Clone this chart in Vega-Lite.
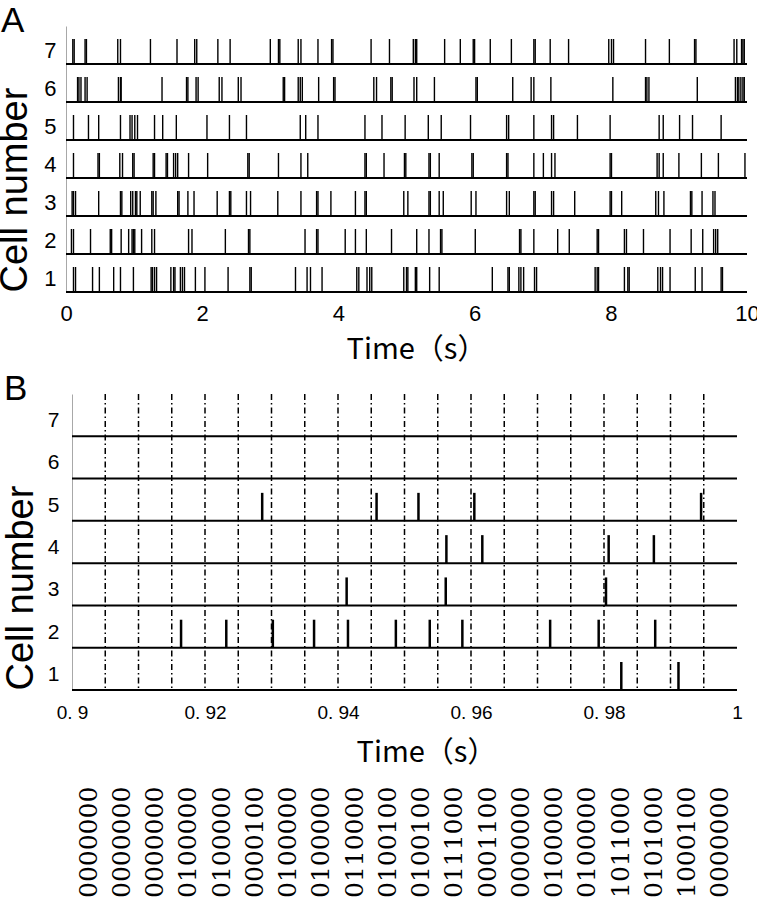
{
"$schema": "https://vega.github.io/schema/vega-lite/v6.json",
"background": "white",
"padding": {"left": -4, "top": 4, "right": 0, "bottom": 0},
"config": {"view": {"stroke": null}, "font": "Liberation Sans", "axis": {"grid": false, "ticks": false, "labelColor": "black", "titleColor": "black", "titleFontWeight": "normal", "labelFlush": false, "labelOverlap": false, "labelBound": false}},
"datasets": {
"cells": [{"cell":1},{"cell":2},{"cell":3},{"cell":4},{"cell":5},{"cell":6},{"cell":7}],
"rasterA": [
{"cell":7,"t":0.10},{"cell":7,"t":0.12},{"cell":7,"t":0.28},{"cell":7,"t":0.30},{"cell":7,"t":0.76},{"cell":7,"t":0.80},{"cell":7,"t":1.24},{"cell":7,"t":1.63},{"cell":7,"t":1.89},{"cell":7,"t":1.92},{"cell":7,"t":2.23},{"cell":7,"t":2.41},{"cell":7,"t":3.00},{"cell":7,"t":3.12},{"cell":7,"t":3.14},{"cell":7,"t":3.41},{"cell":7,"t":3.45},{"cell":7,"t":3.70},{"cell":7,"t":3.90},{"cell":7,"t":3.92},{"cell":7,"t":4.48},{"cell":7,"t":4.75},{"cell":7,"t":5.10},{"cell":7,"t":5.13},{"cell":7,"t":5.15},{"cell":7,"t":5.56},{"cell":7,"t":5.79},{"cell":7,"t":5.98},{"cell":7,"t":6.00},{"cell":7,"t":6.23},{"cell":7,"t":6.54},{"cell":7,"t":6.87},{"cell":7,"t":6.89},{"cell":7,"t":7.11},{"cell":7,"t":7.38},{"cell":7,"t":7.97},{"cell":7,"t":8.01},{"cell":7,"t":8.04},{"cell":7,"t":8.51},{"cell":7,"t":8.86},{"cell":7,"t":9.23},{"cell":7,"t":9.25},{"cell":7,"t":9.81},{"cell":7,"t":9.85},{"cell":7,"t":9.92},{"cell":7,"t":9.94},{"cell":7,"t":9.96},
{"cell":6,"t":0.17},{"cell":6,"t":0.19},{"cell":6,"t":0.22},{"cell":6,"t":0.28},{"cell":6,"t":0.31},{"cell":6,"t":0.77},{"cell":6,"t":0.80},{"cell":6,"t":0.81},{"cell":6,"t":1.41},{"cell":6,"t":1.77},{"cell":6,"t":1.79},{"cell":6,"t":1.91},{"cell":6,"t":1.94},{"cell":6,"t":2.25},{"cell":6,"t":2.29},{"cell":6,"t":2.53},{"cell":6,"t":2.57},{"cell":6,"t":3.19},{"cell":6,"t":3.21},{"cell":6,"t":3.41},{"cell":6,"t":3.44},{"cell":6,"t":3.47},{"cell":6,"t":3.71},{"cell":6,"t":3.93},{"cell":6,"t":3.95},{"cell":6,"t":4.52},{"cell":6,"t":4.56},{"cell":6,"t":4.77},{"cell":6,"t":4.79},{"cell":6,"t":5.11},{"cell":6,"t":5.15},{"cell":6,"t":5.41},{"cell":6,"t":6.02},{"cell":6,"t":6.04},{"cell":6,"t":6.56},{"cell":6,"t":6.83},{"cell":6,"t":6.87},{"cell":6,"t":7.12},{"cell":6,"t":8.03},{"cell":6,"t":8.51},{"cell":6,"t":8.53},{"cell":6,"t":8.56},{"cell":6,"t":9.27},{"cell":6,"t":9.83},{"cell":6,"t":9.86},{"cell":6,"t":9.88},{"cell":6,"t":9.91},{"cell":6,"t":9.94},{"cell":6,"t":9.96},
{"cell":5,"t":0.11},{"cell":5,"t":0.33},{"cell":5,"t":0.48},{"cell":5,"t":0.80},{"cell":5,"t":0.94},{"cell":5,"t":0.97},{"cell":5,"t":1.01},{"cell":5,"t":1.05},{"cell":5,"t":1.30},{"cell":5,"t":1.42},{"cell":5,"t":1.62},{"cell":5,"t":2.07},{"cell":5,"t":2.40},{"cell":5,"t":2.65},{"cell":5,"t":3.44},{"cell":5,"t":3.52},{"cell":5,"t":3.70},{"cell":5,"t":4.39},{"cell":5,"t":4.64},{"cell":5,"t":4.98},{"cell":5,"t":5.32},{"cell":5,"t":5.51},{"cell":5,"t":5.94},{"cell":5,"t":6.47},{"cell":5,"t":6.50},{"cell":5,"t":6.87},{"cell":5,"t":7.13},{"cell":5,"t":7.16},{"cell":5,"t":7.51},{"cell":5,"t":7.99},{"cell":5,"t":8.71},{"cell":5,"t":8.77},{"cell":5,"t":9.01},{"cell":5,"t":9.20},{"cell":5,"t":9.62},
{"cell":4,"t":0.11},{"cell":4,"t":0.47},{"cell":4,"t":0.49},{"cell":4,"t":0.79},{"cell":4,"t":0.83},{"cell":4,"t":0.98},{"cell":4,"t":1.00},{"cell":4,"t":1.28},{"cell":4,"t":1.30},{"cell":4,"t":1.47},{"cell":4,"t":1.49},{"cell":4,"t":1.58},{"cell":4,"t":1.61},{"cell":4,"t":1.64},{"cell":4,"t":1.80},{"cell":4,"t":2.08},{"cell":4,"t":2.67},{"cell":4,"t":2.69},{"cell":4,"t":3.12},{"cell":4,"t":3.45},{"cell":4,"t":3.55},{"cell":4,"t":4.39},{"cell":4,"t":4.41},{"cell":4,"t":4.67},{"cell":4,"t":4.97},{"cell":4,"t":4.99},{"cell":4,"t":5.33},{"cell":4,"t":5.35},{"cell":4,"t":5.48},{"cell":4,"t":5.96},{"cell":4,"t":5.98},{"cell":4,"t":6.47},{"cell":4,"t":6.49},{"cell":4,"t":6.87},{"cell":4,"t":7.01},{"cell":4,"t":7.13},{"cell":4,"t":7.18},{"cell":4,"t":7.99},{"cell":4,"t":8.01},{"cell":4,"t":8.68},{"cell":4,"t":8.71},{"cell":4,"t":8.77},{"cell":4,"t":9.00},{"cell":4,"t":9.33},{"cell":4,"t":9.58},{"cell":4,"t":9.97},
{"cell":3,"t":0.09},{"cell":3,"t":0.11},{"cell":3,"t":0.14},{"cell":3,"t":0.48},{"cell":3,"t":0.80},{"cell":3,"t":0.82},{"cell":3,"t":0.95},{"cell":3,"t":0.98},{"cell":3,"t":1.02},{"cell":3,"t":1.04},{"cell":3,"t":1.09},{"cell":3,"t":1.26},{"cell":3,"t":1.28},{"cell":3,"t":1.32},{"cell":3,"t":1.64},{"cell":3,"t":1.66},{"cell":3,"t":1.79},{"cell":3,"t":1.88},{"cell":3,"t":2.22},{"cell":3,"t":2.40},{"cell":3,"t":2.42},{"cell":3,"t":2.65},{"cell":3,"t":2.71},{"cell":3,"t":3.11},{"cell":3,"t":3.45},{"cell":3,"t":3.68},{"cell":3,"t":3.70},{"cell":3,"t":3.89},{"cell":3,"t":4.25},{"cell":3,"t":4.39},{"cell":3,"t":4.41},{"cell":3,"t":4.96},{"cell":3,"t":5.02},{"cell":3,"t":5.33},{"cell":3,"t":5.35},{"cell":3,"t":5.48},{"cell":3,"t":5.54},{"cell":3,"t":5.95},{"cell":3,"t":6.02},{"cell":3,"t":6.47},{"cell":3,"t":6.51},{"cell":3,"t":6.87},{"cell":3,"t":6.89},{"cell":3,"t":7.13},{"cell":3,"t":7.16},{"cell":3,"t":7.47},{"cell":3,"t":7.99},{"cell":3,"t":8.01},{"cell":3,"t":8.16},{"cell":3,"t":8.66},{"cell":3,"t":8.70},{"cell":3,"t":8.78},{"cell":3,"t":9.17},{"cell":3,"t":9.19},{"cell":3,"t":9.34},{"cell":3,"t":9.50},{"cell":3,"t":9.53},
{"cell":2,"t":0.08},{"cell":2,"t":0.11},{"cell":2,"t":0.36},{"cell":2,"t":0.65},{"cell":2,"t":0.67},{"cell":2,"t":0.81},{"cell":2,"t":0.92},{"cell":2,"t":0.97},{"cell":2,"t":0.99},{"cell":2,"t":1.01},{"cell":2,"t":1.11},{"cell":2,"t":1.26},{"cell":2,"t":1.30},{"cell":2,"t":1.80},{"cell":2,"t":1.85},{"cell":2,"t":2.34},{"cell":2,"t":2.68},{"cell":2,"t":2.70},{"cell":2,"t":3.51},{"cell":2,"t":3.68},{"cell":2,"t":3.70},{"cell":2,"t":4.10},{"cell":2,"t":4.25},{"cell":2,"t":4.41},{"cell":2,"t":4.78},{"cell":2,"t":5.15},{"cell":2,"t":5.33},{"cell":2,"t":5.50},{"cell":2,"t":5.52},{"cell":2,"t":6.01},{"cell":2,"t":6.66},{"cell":2,"t":6.68},{"cell":2,"t":6.87},{"cell":2,"t":7.22},{"cell":2,"t":7.39},{"cell":2,"t":7.80},{"cell":2,"t":7.82},{"cell":2,"t":8.20},{"cell":2,"t":8.23},{"cell":2,"t":8.48},{"cell":2,"t":8.87},{"cell":2,"t":9.18},{"cell":2,"t":9.35},{"cell":2,"t":9.51},{"cell":2,"t":9.54},{"cell":2,"t":9.57},
{"cell":1,"t":0.11},{"cell":1,"t":0.14},{"cell":1,"t":0.39},{"cell":1,"t":0.49},{"cell":1,"t":0.70},{"cell":1,"t":0.80},{"cell":1,"t":0.99},{"cell":1,"t":1.25},{"cell":1,"t":1.27},{"cell":1,"t":1.30},{"cell":1,"t":1.33},{"cell":1,"t":1.54},{"cell":1,"t":1.58},{"cell":1,"t":1.60},{"cell":1,"t":1.68},{"cell":1,"t":1.71},{"cell":1,"t":1.74},{"cell":1,"t":1.90},{"cell":1,"t":2.04},{"cell":1,"t":2.38},{"cell":1,"t":2.70},{"cell":1,"t":2.72},{"cell":1,"t":3.37},{"cell":1,"t":3.54},{"cell":1,"t":3.59},{"cell":1,"t":3.76},{"cell":1,"t":4.27},{"cell":1,"t":4.30},{"cell":1,"t":4.42},{"cell":1,"t":4.46},{"cell":1,"t":4.49},{"cell":1,"t":4.96},{"cell":1,"t":5.00},{"cell":1,"t":5.02},{"cell":1,"t":5.13},{"cell":1,"t":5.15},{"cell":1,"t":5.34},{"cell":1,"t":5.48},{"cell":1,"t":6.26},{"cell":1,"t":6.49},{"cell":1,"t":6.51},{"cell":1,"t":6.65},{"cell":1,"t":6.68},{"cell":1,"t":6.72},{"cell":1,"t":6.88},{"cell":1,"t":6.91},{"cell":1,"t":7.77},{"cell":1,"t":7.80},{"cell":1,"t":7.82},{"cell":1,"t":8.20},{"cell":1,"t":8.25},{"cell":1,"t":8.27},{"cell":1,"t":8.69},{"cell":1,"t":8.73},{"cell":1,"t":8.76},{"cell":1,"t":8.87},{"cell":1,"t":9.24},{"cell":1,"t":9.34},{"cell":1,"t":9.62},{"cell":1,"t":9.64}
],
"spikesB": [
{"cell":5,"t":0.9286},{"cell":5,"t":0.9458},{"cell":5,"t":0.9521},{"cell":5,"t":0.9605},{"cell":5,"t":0.9946},
{"cell":4,"t":0.9563},{"cell":4,"t":0.9617},{"cell":4,"t":0.9807},{"cell":4,"t":0.9875},
{"cell":3,"t":0.9413},{"cell":3,"t":0.9562},{"cell":3,"t":0.9803},
{"cell":2,"t":0.9164},{"cell":2,"t":0.9232},{"cell":2,"t":0.9302},{"cell":2,"t":0.9364},{"cell":2,"t":0.9415},{"cell":2,"t":0.9487},{"cell":2,"t":0.9538},{"cell":2,"t":0.9587},{"cell":2,"t":0.9719},{"cell":2,"t":0.9792},{"cell":2,"t":0.9877},
{"cell":1,"t":0.9826},{"cell":1,"t":0.9912}
],
"binEdges": [{"t":0.905},{"t":0.91},{"t":0.915},{"t":0.92},{"t":0.925},{"t":0.93},{"t":0.935},{"t":0.94},{"t":0.945},{"t":0.95},{"t":0.955},{"t":0.96},{"t":0.965},{"t":0.97},{"t":0.975},{"t":0.98},{"t":0.985},{"t":0.99},{"t":0.995}],
"codes": [
{"t":0.9025,"code":"0000000"},{"t":0.9075,"code":"0000000"},{"t":0.9125,"code":"0000000"},{"t":0.9175,"code":"0100000"},{"t":0.9225,"code":"0100000"},{"t":0.9275,"code":"0000100"},{"t":0.9325,"code":"0100000"},{"t":0.9375,"code":"0100000"},{"t":0.9425,"code":"0110000"},{"t":0.9475,"code":"0100100"},{"t":0.9525,"code":"0100100"},{"t":0.9575,"code":"0111000"},{"t":0.9625,"code":"0001100"},{"t":0.9675,"code":"0000000"},{"t":0.9725,"code":"0100000"},{"t":0.9775,"code":"0100000"},{"t":0.9825,"code":"1011000"},{"t":0.9875,"code":"0101000"},{"t":0.9925,"code":"1000100"},{"t":0.9975,"code":"0000000"}
]
},
"bounds": "flush",
"spacing": 102,
"vconcat": [
{
"width": 681, "height": 266,
"title": {"text": "A", "anchor": "start", "frame": "group", "fontSize": 35, "fontWeight": "normal", "font": "Liberation Sans", "color": "black", "baseline": "alphabetic", "offset": 0, "dx": -65, "dy": 41},
"layer": [
{"data": {"name": "cells"}, "mark": {"type": "rule", "color": "black", "strokeWidth": 2, "yOffset": 19},
 "encoding": {"y": {"field": "cell", "type": "quantitative", "scale": {"domain": [0.5, 7.5], "nice": false, "zero": false},
   "axis": {"values": [1,2,3,4,5,6,7], "format": "d", "title": "Cell number", "titleFontSize": 38, "titleX": -32, "titleY": 266, "titleAlign": "left", "labelFontSize": 22, "labelPadding": 10, "labelOffset": 5, "domainColor": "#a8a8a8", "domainWidth": 1}}}},
{"data": {"name": "rasterA"}, "mark": {"type": "rule", "color": "black", "strokeWidth": 1.4, "yOffset": 19, "y2Offset": -6},
 "encoding": {
   "x": {"field": "t", "type": "quantitative", "scale": {"domain": [0, 10], "nice": false, "zero": false},
     "axis": {"values": [0,2,4,6,8,10], "format": "d", "title": "Time（s）", "titleFont": "Noto Sans CJK JP", "titleFontSize": 29, "titleX": 350, "titleY": 66, "titleBaseline": "alphabetic", "labelFontSize": 22, "labelPadding": 11, "domain": false}},
   "y": {"field": "cell", "type": "quantitative", "scale": {"domain": [0.5, 7.5], "nice": false, "zero": false}},
   "y2": {"field": "cell"}}}
]
},
{
"bounds": "flush",
"spacing": 207,
"vconcat": [
{
"width": 671, "height": 296,
"title": {"text": "B", "anchor": "start", "frame": "group", "fontSize": 35, "fontWeight": "normal", "font": "Liberation Sans", "color": "black", "baseline": "alphabetic", "offset": 0, "dx": -62, "dy": 42},
"layer": [
{"data": {"name": "binEdges"}, "mark": {"type": "rule", "color": "black", "strokeWidth": 1.5, "strokeDash": [6, 3, 1.5, 3]},
 "encoding": {"x": {"field": "t", "type": "quantitative", "scale": {"domain": [0.9, 1.0], "range": [6, 671], "nice": false, "zero": false},
   "axis": {"values": [0.9, 0.92, 0.94, 0.96, 0.98, 1.0], "labelExpr": "datum.value > 0.999 ? '1' : replace(format(datum.value, '.2~f'), '.', '. ')", "title": "Time（s）", "titleFont": "Noto Sans CJK JP", "titleFontSize": 29, "titleX": 360, "titleY": 71, "titleBaseline": "alphabetic", "labelFontSize": 19, "labelPadding": 13, "domain": false}}}},
{"data": {"name": "cells"}, "mark": {"type": "rule", "color": "black", "strokeWidth": 2, "yOffset": 21.14},
 "encoding": {
   "x": {"datum": 0.9, "type": "quantitative"}, "x2": {"datum": 1.0},
   "y": {"field": "cell", "type": "quantitative", "scale": {"domain": [0.5, 7.5], "nice": false, "zero": false},
   "axis": {"values": [1,2,3,4,5,6,7], "format": "d", "offset": -6, "title": "Cell number", "titleFontSize": 38, "titleX": -32, "titleY": 296, "titleAlign": "left", "labelFontSize": 21, "labelPadding": 13, "labelOffset": 5.5, "domainColor": "#a8a8a8", "domainWidth": 1}}}},
{"data": {"name": "spikesB"}, "mark": {"type": "rule", "color": "black", "strokeWidth": 2.5, "yOffset": 21.14, "y2Offset": -6.86},
 "encoding": {
   "x": {"field": "t", "type": "quantitative"},
   "y": {"field": "cell", "type": "quantitative", "scale": {"domain": [0.5, 7.5], "nice": false, "zero": false}},
   "y2": {"field": "cell"}}}
]
},
{
"width": 671, "height": 2,
"data": {"name": "codes"},
"mark": {"type": "text", "angle": 270, "align": "left", "baseline": "middle", "font": "DejaVu Serif", "fontSize": 25, "color": "black"},
"encoding": {
  "x": {"field": "t", "type": "quantitative", "scale": {"domain": [0.9, 1.0], "range": [6, 671], "nice": false, "zero": false}, "axis": null},
  "text": {"field": "code"}}
}
]
}
]
}
